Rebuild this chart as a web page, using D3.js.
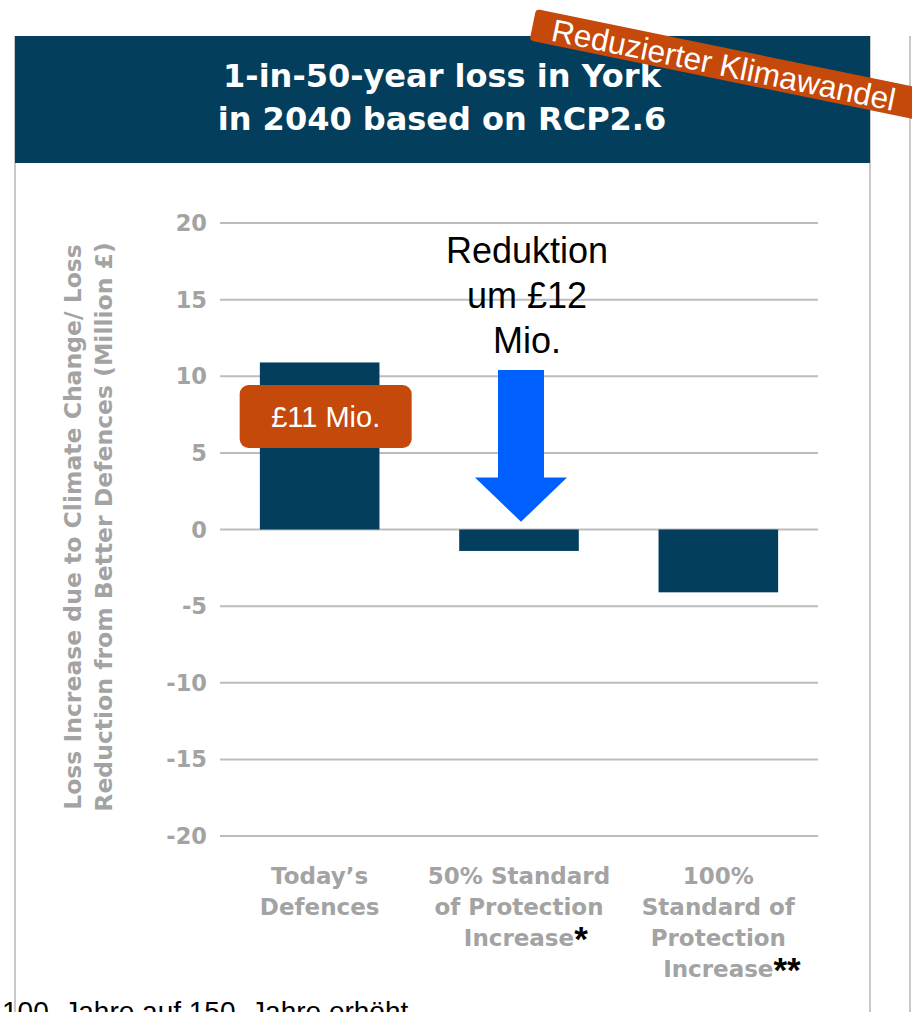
<!DOCTYPE html>
<html>
<head>
<meta charset="utf-8">
<script src="https://cdn.jsdelivr.net/npm/d3@7"></script>
<style>
  html, body { margin: 0; padding: 0; background: #fff; }
  svg { display: block; }
</style>
</head>
<body>
<svg id="chart" width="912" height="1012"></svg>
<script>
// data
const categories = ['today', 'half', 'full'];
const categoryLines = [
  ['Today’s', 'Defences'],
  ['50% Standard', 'of Protection', 'Increase'],
  ['100%', 'Standard of', 'Protection', 'Increase']
];
const categoryMarks = ['', '*', '**'];
const values = [10.9, -1.4, -4.1];
const yTicks = [20, 15, 10, 5, 0, -5, -10, -15, -20];
const titleLines = ['1-in-50-year loss in York', 'in 2040 based on RCP2.6'];
const yTitleLines = ['Loss Increase due to Climate Change/ Loss', 'Reduction from Better Defences (Million £)'];
const noteLines = ['Reduktion', 'um £12', 'Mio.'];

const navy = '#033f5c';
const grey = '#a3a3a3';
const orange = '#c4490b';
const boldFont = '"DejaVu Sans", sans-serif';
const plainFont = 'Arial, "Liberation Sans", sans-serif';

const svg = d3.select('#chart');

const x = d3.scaleBand().domain(categories).range([220, 818]).paddingInner(0.4).paddingOuter(0.2);
const y = d3.scaleLinear().domain([-20, 20]).range([836, 223]);

// panel frame
[15, 870, 910].forEach(px => {
  svg.append('line').attr('x1', px).attr('x2', px).attr('y1', 36).attr('y2', 1012)
    .attr('stroke', '#c8c8c8').attr('stroke-width', 2);
});

// header
svg.append('rect').attr('x', 15).attr('y', 36).attr('width', 855).attr('height', 127).attr('fill', navy);
svg.append('g').selectAll('text').data(titleLines).join('text')
  .attr('x', 442).attr('y', (d, i) => 87 + i * 43)
  .attr('text-anchor', 'middle').attr('fill', '#fff')
  .attr('font-family', boldFont).attr('font-weight', 700).attr('font-size', 32)
  .text(d => d);

// gridlines
svg.append('g').selectAll('line').data(yTicks).join('line')
  .attr('x1', 220).attr('x2', 818).attr('y1', d => y(d)).attr('y2', d => y(d))
  .attr('stroke', '#bdbdbd').attr('stroke-width', 2);

// y tick labels
svg.append('g').selectAll('text').data(yTicks).join('text')
  .attr('x', 207).attr('y', d => y(d)).attr('dy', '0.36em')
  .attr('text-anchor', 'end').attr('fill', grey)
  .attr('font-family', boldFont).attr('font-weight', 700).attr('font-size', 22.5)
  .text(d => d);

// y axis title
svg.append('g').attr('transform', 'translate(0,527) rotate(-90)')
  .selectAll('text').data(yTitleLines).join('text')
  .attr('x', 0).attr('y', (d, i) => 81 + i * 31)
  .attr('text-anchor', 'middle').attr('fill', grey)
  .attr('font-family', boldFont).attr('font-weight', 700).attr('font-size', 23.5)
  .text(d => d);

// bars
svg.append('g').selectAll('rect').data(values).join('rect')
  .attr('x', (d, i) => x(categories[i]))
  .attr('width', x.bandwidth())
  .attr('y', d => y(Math.max(0, d)))
  .attr('height', d => Math.abs(y(d) - y(0)))
  .attr('fill', navy);

// category labels
const cat = svg.append('g').selectAll('text').data(categoryLines).join('text')
  .attr('text-anchor', 'middle')
  .attr('font-family', boldFont).attr('font-weight', 700).attr('font-size', 23)
  .attr('fill', grey);
cat.each(function (lines, i) {
  const t = d3.select(this);
  const cx = x(categories[i]) + x.bandwidth() / 2;
  lines.forEach((line, j) => {
    t.append('tspan').attr('x', cx).attr('y', 884 + j * 31).text(line);
    if (j === lines.length - 1 && categoryMarks[i]) {
      t.append('tspan').attr('fill', '#000').attr('font-family', plainFont)
        .attr('font-weight', 700).attr('font-size', 35).attr('dy', 5).text(categoryMarks[i]);
    }
  });
});
// lines carrying a mark: centre the word only
cat.each(function (lines, i) {
  if (!categoryMarks[i]) return;
  const spans = d3.select(this).selectAll('tspan').nodes();
  const word = spans[spans.length - 2];
  const cx = x(categories[i]) + x.bandwidth() / 2;
  const w = word.getComputedTextLength();
  d3.select(word).attr('text-anchor', 'start').attr('x', cx - w / 2);
});

// value callout on first bar
const c0 = x(categories[0]) + x.bandwidth() / 2 + 6;
svg.append('rect').attr('x', c0 - 86).attr('y', 385).attr('width', 172).attr('height', 63)
  .attr('rx', 9).attr('fill', orange);
svg.append('text').attr('x', c0).attr('y', 427).attr('text-anchor', 'middle')
  .attr('fill', '#fff').attr('font-family', plainFont).attr('font-size', 29)
  .text('£' + Math.round(values[0]) + ' Mio.');

// reduction note and arrow
const c1 = x(categories[1]) + x.bandwidth() / 2 + 2;
svg.append('g').selectAll('text').data(noteLines).join('text')
  .attr('x', c1 + 6).attr('y', (d, i) => 263 + i * 45)
  .attr('text-anchor', 'middle').attr('fill', '#000')
  .attr('font-family', plainFont).attr('font-size', 36)
  .text(d => d);
const aTop = y(10.4), aNeck = y(3.4), aTip = y(0.5);
svg.append('path')
  .attr('d', `M${c1 - 23},${aTop}H${c1 + 23}V${aNeck}H${c1 + 46}L${c1},${aTip}L${c1 - 46},${aNeck}H${c1 - 23}Z`)
  .attr('fill', '#0060ff');

// ribbon
const rib = svg.append('g').attr('transform', 'translate(536,9) rotate(11.6)');
rib.append('rect').attr('x', 0).attr('y', 0).attr('width', 440).attr('height', 32).attr('rx', 4).attr('fill', orange);
rib.append('text').attr('x', 20).attr('y', 28).attr('fill', '#fff')
  .attr('font-family', plainFont).attr('font-size', 31.5)
  .text('Reduzierter Klimawandel');

// footnote, cut off at the bottom edge as in the source
svg.append('text').attr('x', 2).attr('y', 1021).attr('fill', '#000')
  .attr('font-family', plainFont).attr('font-size', 28).style('white-space', 'pre')
  .text('100  Jahre auf 150  Jahre erhöht');
</script>
</body>
</html>
